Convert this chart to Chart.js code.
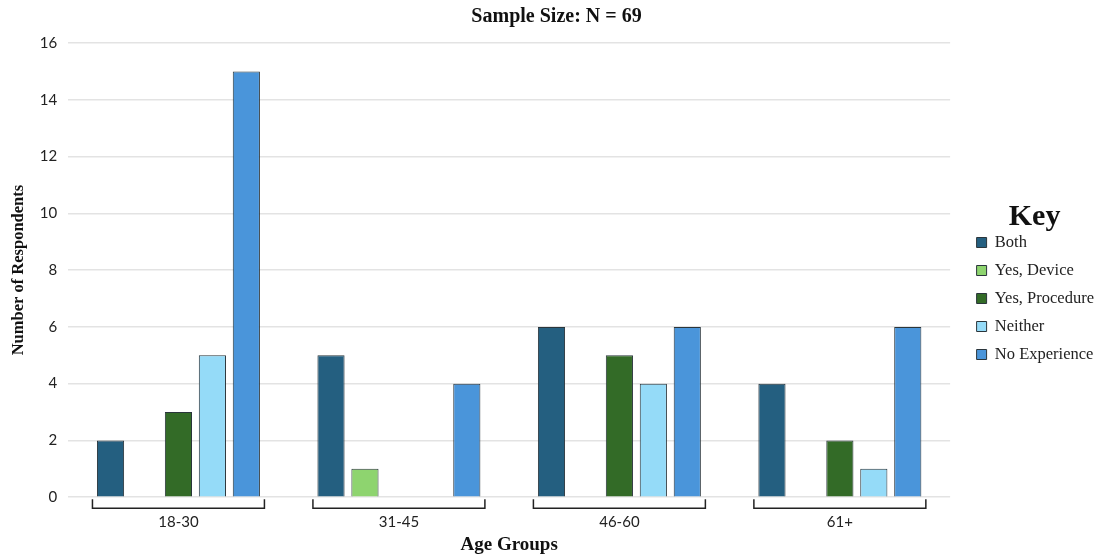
<!DOCTYPE html>
<html lang="en">
<head>
  <meta charset="UTF-8">
  <title>Sample Size: N = 69</title>
  <script src="https://cdn.jsdelivr.net/npm/chart.js"></script>
  <style>
    html, body { margin: 0; padding: 0; background: #fff; }
    #wrap { width: 1101px; height: 558px; position: relative; }
  </style>
</head>
<body>
  <div id="wrap"><canvas id="chart"></canvas></div>

  <script>
    // Age groups and respondent counts per experience type
    const ageGroups = ['18-30', '31-45', '46-60', '61+'];
    const both = [2, 5, 6, 4];
    const yesDevice = [0, 1, 0, 0];
    const yesProcedure = [3, 0, 5, 2];
    const neither = [5, 0, 4, 1];
    const noExperience = [15, 4, 6, 6];
    const yTicks = [0, 2, 4, 6, 8, 10, 12, 14, 16];

    const serif = "'Liberation Serif', 'DejaVu Serif', serif";
    const sans = "'Lato', 'Open Sans', sans-serif";

    // Draws the bracket under each age group
    const bracketPlugin = {
      id: 'brackets',
      afterDatasetsDraw(chart) {
        const ctx = chart.ctx;
        const x = chart.scales.x;
        const bottom = chart.chartArea.bottom;
        const band = (x.right - x.left) / ageGroups.length;
        ctx.save();
        ctx.strokeStyle = '#222';
        ctx.lineWidth = 1.5;
        ageGroups.forEach((g, i) => {
          const c = x.getPixelForValue(i);
          const l = c - band * 0.39, r = c + band * 0.39;
          ctx.beginPath();
          ctx.moveTo(l, bottom + 2);
          ctx.lineTo(l, bottom + 11);
          ctx.lineTo(r, bottom + 11);
          ctx.lineTo(r, bottom + 2);
          ctx.stroke();
        });
        ctx.restore();
      }
    };

    function ds(label, data, color) {
      return {
        label: label,
        data: data,
        backgroundColor: color,
        borderColor: '#2a353b',
        borderWidth: 1,
        borderSkipped: 'bottom',
        categoryPercentage: 0.77,
        barPercentage: 0.8
      };
    }

    new Chart(document.getElementById('chart'), {
      type: 'bar',
      data: {
        labels: ageGroups,
        datasets: [
          ds('Both', both, '#245f80'),
          ds('Yes, Device', yesDevice, '#8ed46f'),
          ds('Yes, Procedure', yesProcedure, '#336b27'),
          ds('Neither', neither, '#95dbf8'),
          ds('No Experience', noExperience, '#4a95da')
        ]
      },
      options: {
        responsive: true,
        maintainAspectRatio: false,
        animation: false,
        layout: { padding: { left: 9, right: -3, top: 2, bottom: 2 } },
        plugins: {
          title: {
            display: true,
            text: 'Sample Size: N = 69',
            color: '#111',
            font: { family: serif, size: 20, weight: 'bold' },
            padding: { top: 3, bottom: 14 }
          },
          legend: {
            position: 'right',
            align: 'center',
            title: {
              display: true,
              text: 'Key',
              color: '#111',
              font: { family: serif, size: 30, weight: 'bold' },
              padding: { top: 18, bottom: -15 }
            },
            labels: {
              color: '#222',
              font: { family: serif, size: 16.5 },
              boxWidth: 10,
              boxHeight: 10,
              padding: 11.5,
              useBorderRadius: false
            }
          },
          tooltip: { enabled: false }
        },
        scales: {
          x: {
            grid: { display: false, drawTicks: false },
            border: { display: false },
            ticks: {
              color: '#222',
              font: { family: sans, size: 15 },
              padding: 16
            },
            title: {
              display: true,
              text: 'Age Groups',
              color: '#111',
              font: { family: serif, size: 19, weight: 'bold' },
              padding: { top: -14, bottom: 0 }
            }
          },
          y: {
            min: 0,
            max: 16,
            afterBuildTicks(axis) {
              axis.ticks = yTicks.map(v => ({ value: v }));
            },
            grid: { color: '#e3e3e3', lineWidth: 1.5, drawTicks: false },
            border: { display: false },
            ticks: {
              color: '#222',
              font: { family: sans, size: 15 },
              padding: 11
            },
            title: {
              display: true,
              text: 'Number of Respondents',
              color: '#111',
              font: { family: serif, size: 16.5, weight: 'bold' },
              padding: { top: 0, bottom: 0 }
            }
          },
          // empty spacer between the plot and the key
          gap: {
            type: 'linear',
            position: 'right',
            display: true,
            grid: { display: false, drawTicks: false },
            border: { display: false },
            ticks: { display: false },
            afterFit(scale) { scale.width = 15; }
          }
        }
      },
      plugins: [bracketPlugin]
    });
  </script>
</body>
</html>
